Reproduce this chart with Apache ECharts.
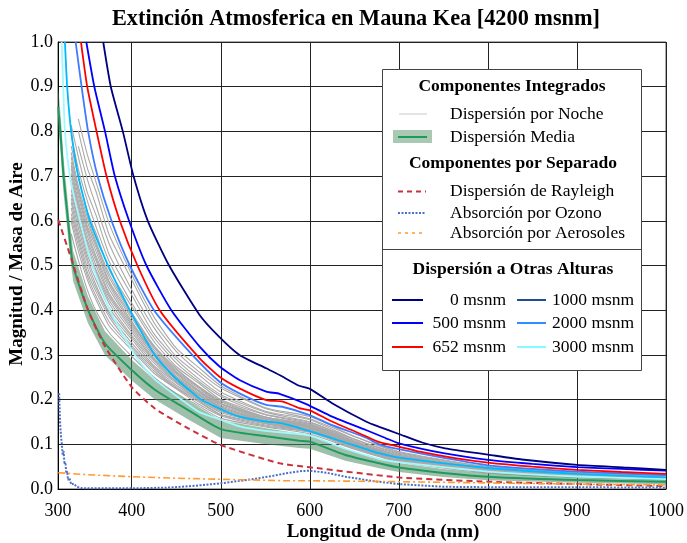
<!DOCTYPE html>
<html>
<head>
<meta charset="utf-8">
<script src="https://cdn.jsdelivr.net/npm/echarts@6/dist/echarts.min.js"></script>
<style>
  html, body { margin: 0; padding: 0; background: #ffffff; }
  #chart { width: 687px; height: 543px; }
</style>
</head>
<body>
<div id="chart"></div>
<script>
// ---- Extinction (mag / airmass) versus wavelength (nm) ----

// Axis range; the first tick carries the nominal range start label
const xStart = 317.2;
const xEnd = 1000;
const xStartLabel = '300';
const yTicks = [0, 0.1, 0.2, 0.3, 0.4, 0.5, 0.6, 0.7, 0.8, 0.9, 1.0];

// Scattering at other altitudes
const wl0m = [368, 376.5, 390, 402, 418, 442, 476, 498, 521, 551, 566, 588, 600, 625, 663, 678, 700, 726, 752, 800, 838, 900, 957, 1000];
const ext0m = [1.0, 0.9, 0.8, 0.7, 0.6, 0.5, 0.39, 0.341, 0.30, 0.27, 0.255, 0.231, 0.224, 0.192, 0.151, 0.139, 0.123, 0.104, 0.091, 0.077, 0.066, 0.054, 0.048, 0.043];

const wl500m = [349, 358, 370, 381, 397, 416.5, 444.5, 476, 498.6, 521, 551, 566, 596, 625, 663, 685, 700, 750, 800, 850, 900, 950, 1000];
const ext500m = [1.0, 0.9, 0.8, 0.7, 0.6, 0.5, 0.4, 0.319, 0.274, 0.244, 0.218, 0.213, 0.19, 0.162, 0.132, 0.114, 0.102, 0.08, 0.065, 0.056, 0.049, 0.045, 0.041];

const wl652m = [343, 350, 360.5, 371.7, 386.6, 406.4, 431.4, 476, 498.6, 521, 551, 569, 588, 600, 625, 663, 678, 700, 725, 763, 800, 850, 900, 950, 1000];
const ext652m = [1.0, 0.9, 0.8, 0.7, 0.6, 0.5, 0.4, 0.293, 0.251, 0.225, 0.199, 0.196, 0.181, 0.176, 0.151, 0.118, 0.105, 0.095, 0.083, 0.069, 0.059, 0.05, 0.043, 0.038, 0.034];

const wl1000m = [337, 343.7, 351, 361.6, 377.3, 397.8, 425, 468, 498.6, 521, 551, 569, 599, 625, 663, 678, 700, 752, 800, 900, 1000];
const ext1000m = [1.0, 0.9, 0.8, 0.7, 0.6, 0.5, 0.4, 0.3, 0.24, 0.214, 0.188, 0.184, 0.166, 0.143, 0.115, 0.1, 0.089, 0.069, 0.053, 0.039, 0.031];

const wl2000m = [325, 327.5, 332, 340, 353, 373.5, 397.8, 425.8, 448, 478, 504, 521, 551, 569, 599, 640, 678, 700, 800, 900, 1000];
const ext2000m = [1.0, 0.9, 0.8, 0.7, 0.6, 0.5, 0.4, 0.3, 0.25, 0.2, 0.175, 0.162, 0.151, 0.147, 0.13, 0.104, 0.08, 0.07, 0.047, 0.034, 0.026];

const wl3000m = [321.3, 323.1, 325, 330.6, 341.8, 356, 375.4, 403.4, 425, 455.7, 476, 504, 521, 550, 599, 640, 678, 700, 800, 900, 1000];
const ext3000m = [1.0, 0.9, 0.8, 0.7, 0.6, 0.5, 0.4, 0.3, 0.247, 0.2, 0.172, 0.152, 0.14, 0.13, 0.12, 0.09, 0.067, 0.06, 0.039, 0.028, 0.022];

// Mean scattering at 4200 m and its spread
const wlMean = [317.5, 320.6, 323.1, 326.9, 330.6, 334.3, 351, 370, 400, 426, 463, 500, 551, 588, 600, 640, 678, 700, 750, 800, 900, 1000];
const extMean = [0.855, 0.781, 0.707, 0.632, 0.557, 0.498, 0.40, 0.326, 0.266, 0.222, 0.177, 0.134, 0.118, 0.108, 0.106, 0.076, 0.0575, 0.048, 0.036, 0.0275, 0.020, 0.0164];
const spreadMean = [0.045, 0.042, 0.04, 0.038, 0.036, 0.034, 0.03, 0.027, 0.023, 0.022, 0.021, 0.02, 0.018, 0.016, 0.016, 0.013, 0.011, 0.01, 0.009, 0.008, 0.006, 0.006];

// Scattering per night
const wlNight = [332, 340, 350, 360, 375, 400, 425, 450, 475, 500, 550, 600, 650, 700, 800, 900, 1000];
const nightCurves = [
  [0.571, 0.512, 0.446, 0.398, 0.349, 0.297, 0.250, 0.214, 0.186, 0.158, 0.139, 0.123, 0.089, 0.061, 0.036, 0.026, 0.021],
  [0.598, 0.532, 0.469, 0.423, 0.364, 0.311, 0.259, 0.224, 0.190, 0.164, 0.141, 0.127, 0.091, 0.062, 0.037, 0.027, 0.022],
  [0.607, 0.545, 0.478, 0.431, 0.373, 0.316, 0.264, 0.226, 0.195, 0.166, 0.143, 0.128, 0.092, 0.064, 0.037, 0.027, 0.022],
  [0.616, 0.556, 0.486, 0.441, 0.384, 0.320, 0.269, 0.228, 0.198, 0.167, 0.146, 0.128, 0.094, 0.065, 0.038, 0.028, 0.022],
  [0.629, 0.564, 0.497, 0.449, 0.390, 0.327, 0.273, 0.232, 0.200, 0.171, 0.147, 0.130, 0.094, 0.065, 0.038, 0.028, 0.023],
  [0.641, 0.573, 0.508, 0.456, 0.395, 0.335, 0.276, 0.237, 0.201, 0.174, 0.147, 0.132, 0.095, 0.066, 0.039, 0.029, 0.023],
  [0.650, 0.585, 0.516, 0.467, 0.404, 0.340, 0.282, 0.239, 0.205, 0.175, 0.149, 0.132, 0.097, 0.067, 0.039, 0.029, 0.023],
  [0.659, 0.597, 0.524, 0.479, 0.414, 0.344, 0.287, 0.241, 0.209, 0.176, 0.151, 0.133, 0.098, 0.067, 0.040, 0.029, 0.024],
  [0.670, 0.603, 0.534, 0.485, 0.421, 0.351, 0.290, 0.245, 0.211, 0.179, 0.151, 0.135, 0.098, 0.068, 0.040, 0.030, 0.024],
  [0.681, 0.610, 0.544, 0.490, 0.428, 0.357, 0.292, 0.249, 0.212, 0.182, 0.152, 0.137, 0.099, 0.069, 0.040, 0.030, 0.024],
  [0.688, 0.621, 0.551, 0.500, 0.433, 0.362, 0.297, 0.251, 0.215, 0.183, 0.154, 0.137, 0.100, 0.069, 0.041, 0.030, 0.025],
  [0.695, 0.631, 0.557, 0.510, 0.437, 0.367, 0.301, 0.252, 0.218, 0.184, 0.156, 0.138, 0.101, 0.070, 0.041, 0.031, 0.025],
  [0.706, 0.638, 0.567, 0.516, 0.446, 0.371, 0.304, 0.256, 0.220, 0.187, 0.157, 0.140, 0.101, 0.071, 0.042, 0.031, 0.025],
  [0.717, 0.644, 0.577, 0.521, 0.454, 0.375, 0.306, 0.259, 0.221, 0.190, 0.157, 0.141, 0.102, 0.071, 0.042, 0.031, 0.025],
  [0.724, 0.655, 0.583, 0.531, 0.459, 0.382, 0.311, 0.261, 0.225, 0.191, 0.159, 0.141, 0.103, 0.072, 0.042, 0.032, 0.026],
  [0.731, 0.665, 0.589, 0.541, 0.463, 0.388, 0.316, 0.263, 0.228, 0.192, 0.161, 0.142, 0.104, 0.073, 0.043, 0.032, 0.026],
  [0.742, 0.671, 0.599, 0.547, 0.472, 0.392, 0.319, 0.267, 0.229, 0.195, 0.161, 0.144, 0.104, 0.073, 0.043, 0.032, 0.026],
  [0.753, 0.678, 0.609, 0.552, 0.480, 0.395, 0.321, 0.270, 0.230, 0.198, 0.161, 0.145, 0.105, 0.073, 0.044, 0.032, 0.026],
  [0.767, 0.699, 0.622, 0.572, 0.489, 0.408, 0.330, 0.274, 0.237, 0.200, 0.166, 0.146, 0.107, 0.075, 0.044, 0.033, 0.027],
  [0.792, 0.716, 0.645, 0.586, 0.508, 0.416, 0.339, 0.282, 0.241, 0.207, 0.167, 0.149, 0.108, 0.076, 0.045, 0.034, 0.027],
  [0.814, 0.743, 0.664, 0.612, 0.523, 0.434, 0.347, 0.290, 0.247, 0.211, 0.172, 0.150, 0.111, 0.078, 0.046, 0.035, 0.028],
  [null, 0.767, 0.694, 0.633, 0.547, 0.446, 0.361, 0.296, 0.256, 0.217, 0.174, 0.155, 0.112, 0.080, 0.047, 0.035, 0.029],
  [null, 0.801, 0.719, 0.665, 0.567, 0.468, 0.372, 0.308, 0.263, 0.226, 0.180, 0.157, 0.117, 0.082, 0.049, 0.037, 0.030],
  [null, 0.828, 0.749, 0.686, 0.592, 0.480, 0.385, 0.315, 0.272, 0.231, 0.182, 0.162, 0.118, 0.084, 0.050, 0.038, 0.031]
];

// Separate components
const wlRayleigh = [317.5, 332.5, 351, 370, 400, 426, 463, 500, 566, 600, 700, 800, 900, 1000];
const extRayleigh = [0.602, 0.513, 0.40, 0.319, 0.228, 0.18, 0.136, 0.0985, 0.0575, 0.0486, 0.026, 0.0164, 0.011, 0.0067];

const wlOzone = [318.5, 319, 319.5, 320.5, 321.5, 322.5, 323.5, 324.5, 325.5, 326.5, 327.5, 328.5, 330, 332, 335, 338, 343, 360, 400, 440, 470, 500, 535, 560, 573, 590, 600, 620, 640, 670, 700, 750, 800, 900, 1000];
const extOzone = [0.214, 0.18, 0.15, 0.12, 0.10, 0.075, 0.085, 0.055, 0.06, 0.035, 0.04, 0.02, 0.025, 0.01, 0.012, 0.005, 0.002, 0.0015, 0.0015, 0.003, 0.007, 0.0127, 0.0217, 0.03, 0.035, 0.04, 0.041, 0.036, 0.0275, 0.018, 0.011, 0.005, 0.004, 0.004, 0.003];

const wlAerosol = [317.5, 350, 400, 450, 500, 570, 600, 700, 800, 900, 1000];
const extAerosol = [0.0365, 0.032, 0.0275, 0.024, 0.0217, 0.0186, 0.0185, 0.0164, 0.0135, 0.011, 0.009];

// ---- styling ----
const FONT = "'Liberation Serif', 'Times New Roman', serif";
const C = {
  m0: '#000080', m500: '#0000ff', m652: '#ff0000',
  m1000: '#3f7bff', m2000: '#00b9ff', m3000: '#a2f8ff',
  night: '#a9a9a9', mean: '#1e9a5e', band: 'rgba(78, 140, 100, 0.55)',
  rayleigh: '#c8323c', ozone: '#4a6fc8', aerosol: '#ff9a2e'
};

function pairs(wl, vals) {
  const out = [];
  for (let i = 0; i < wl.length; i++) {
    if (vals[i] !== null && vals[i] !== undefined) out.push([wl[i], vals[i]]);
  }
  return out;
}

function curve(name, wl, vals, color, width, type, smooth, z) {
  return {
    name, type: 'line', data: pairs(wl, vals),
    showSymbol: false, symbol: 'none', smooth: smooth,
    lineStyle: { color, width, type }, itemStyle: { color },
    silent: true, z, clip: true, animation: false
  };
}

const series = [];
nightCurves.forEach((vals, i) => {
  series.push(curve('Noche ' + (i + 1), wlNight, vals, C.night, 1.1, 'solid', 0.2, 2));
});

// spread band around the mean
series.push({
  name: 'Banda', type: 'custom', coordinateSystem: 'cartesian2d',
  data: [[wlMean[0], extMean[0]]], silent: true, z: 3, clip: true, animation: false,
  renderItem: function (params, api) {
    const pts = [];
    for (let i = 0; i < wlMean.length; i++) pts.push(api.coord([wlMean[i], extMean[i] + spreadMean[i]]));
    for (let i = wlMean.length - 1; i >= 0; i--) pts.push(api.coord([wlMean[i], extMean[i] - spreadMean[i]]));
    return { type: 'polygon', shape: { points: pts }, style: { fill: C.band } };
  }
});

series.push(curve('3000 msnm', wl3000m, ext3000m, C.m3000, 1.8, 'solid', 0.2, 5));
series.push(curve('2000 msnm', wl2000m, ext2000m, C.m2000, 1.8, 'solid', 0.2, 5));
series.push(curve('1000 msnm', wl1000m, ext1000m, C.m1000, 1.8, 'solid', 0.2, 5));
series.push(curve('652 msnm', wl652m, ext652m, C.m652, 1.8, 'solid', 0.2, 5));
series.push(curve('500 msnm', wl500m, ext500m, C.m500, 1.8, 'solid', 0.2, 5));
series.push(curve('0 msnm', wl0m, ext0m, C.m0, 1.8, 'solid', 0.2, 5));
series.push(curve('Dispersión Media', wlMean, extMean, C.mean, 2, 'solid', 0.2, 6));
series.push(curve('Dispersión de Rayleigh', wlRayleigh, extRayleigh, C.rayleigh, 2, [6, 4], 0.2, 6));
series.push(curve('Absorción por Ozono', wlOzone, extOzone, C.ozone, 2, [2, 1.5], false, 6));
series.push(curve('Absorción por Aerosoles', wlAerosol, extAerosol, C.aerosol, 1.6, [7, 3, 2, 3], false, 6));

// ---- legend panel ----
const LX = 382.5, LY = 69.5, LW = 259, LH = 301;
function txt(text, x, y, opts) {
  return {
    type: 'text', x, y, z: 101, silent: true,
    style: Object.assign({
      text, fill: '#000', fontFamily: FONT, fontSize: 17.5,
      align: 'left', verticalAlign: 'middle'
    }, opts || {})
  };
}
function seg(x1, x2, y, color, width, dash) {
  return {
    type: 'line', z: 101, silent: true,
    shape: { x1, y1: y, x2, y2: y },
    style: { stroke: color, lineWidth: width, lineDash: dash || null }
  };
}
const legend = [
  { type: 'rect', z: 100, silent: true, shape: { x: LX, y: LY, width: LW, height: LH },
    style: { fill: '#ffffff', stroke: '#444', lineWidth: 1 } },
  { type: 'line', z: 101, silent: true, shape: { x1: LX, y1: 249.5, x2: LX + LW, y2: 249.5 },
    style: { stroke: '#444', lineWidth: 1 } },
  txt('Componentes Integrados', 512, 86, { fontWeight: 'bold', align: 'center' }),
  seg(399, 427, 114, '#c8c8c8', 1),
  txt('Dispersión por Noche', 450, 114),
  { type: 'rect', z: 101, silent: true, shape: { x: 393, y: 130, width: 39, height: 13 },
    style: { fill: '#a9c9b3' } },
  seg(398, 427, 137, C.mean, 2),
  txt('Dispersión Media', 450, 137),
  txt('Componentes por Separado', 513, 163, { fontWeight: 'bold', align: 'center' }),
  seg(398, 426, 191.5, C.rayleigh, 2, [5, 4]),
  txt('Dispersión de Rayleigh', 450, 191.5),
  seg(398, 426, 213, C.ozone, 2, [2, 1.5]),
  txt('Absorción por Ozono', 450, 213),
  seg(398, 426, 233, C.aerosol, 1.6, [3, 4]),
  txt('Absorción por Aerosoles', 450, 233),
  txt('Dispersión a Otras Alturas', 513, 269, { fontWeight: 'bold', align: 'center' }),
  seg(392, 423, 300, C.m0, 2),
  txt('0 msnm', 506, 300, { align: 'right' }),
  seg(392, 423, 323, C.m500, 2),
  txt('500 msnm', 506, 323, { align: 'right' }),
  seg(392, 423, 347, C.m652, 2),
  txt('652 msnm', 506, 347, { align: 'right' }),
  seg(517, 546, 300, '#1d4f92', 2),
  txt('1000 msnm', 552, 300),
  seg(517, 546, 323, '#2f8fff', 2),
  txt('2000 msnm', 552, 323),
  seg(517, 546, 347, '#86fbff', 2),
  txt('3000 msnm', 552, 347)
];

const titles = [
  txt('Extinción Atmosferica en Mauna Kea [4200 msnm]', 356, 19,
    { fontWeight: 'bold', fontSize: 22.3, align: 'center' }),
  txt('Longitud de Onda (nm)', 383, 532, { fontWeight: 'bold', fontSize: 19, align: 'center' }),
  Object.assign(txt('Magnitud / Masa de Aire', 0, 0, { fontWeight: 'bold', fontSize: 19, align: 'center' }),
    { x: 17, y: 264, rotation: Math.PI / 2 })
];

const chart = echarts.init(document.getElementById('chart'), null, { renderer: 'canvas' });
chart.setOption({
  animation: false,
  backgroundColor: '#ffffff',
  grid: { left: 58, right: 19, top: 42, bottom: 54, show: true, borderColor: '#555', borderWidth: 1, backgroundColor: 'transparent' },
  xAxis: {
    type: 'value', min: xStart, max: xEnd, splitNumber: 7,
    axisLine: { show: true, onZero: false, lineStyle: { color: '#000', width: 1 } },
    axisTick: { show: false },
    axisLabel: {
      margin: 13, color: '#000', fontFamily: FONT, fontSize: 18,
      formatter: v => (Math.abs(v - xStart) < 1e-6 ? xStartLabel : String(Math.round(v)))
    },
    splitLine: { show: true, lineStyle: { color: '#222', width: 1 } }
  },
  yAxis: {
    type: 'value', min: yTicks[0], max: yTicks[yTicks.length - 1], interval: 0.1,
    axisLine: { show: true, lineStyle: { color: '#000', width: 1 } },
    axisTick: { show: false },
    axisLabel: { margin: 5, color: '#000', fontFamily: FONT, fontSize: 18, formatter: v => v.toFixed(1) },
    splitLine: { show: true, lineStyle: { color: '#222', width: 1 } }
  },
  series: series,
  graphic: { elements: legend.concat(titles) }
});
</script>
</body>
</html>
